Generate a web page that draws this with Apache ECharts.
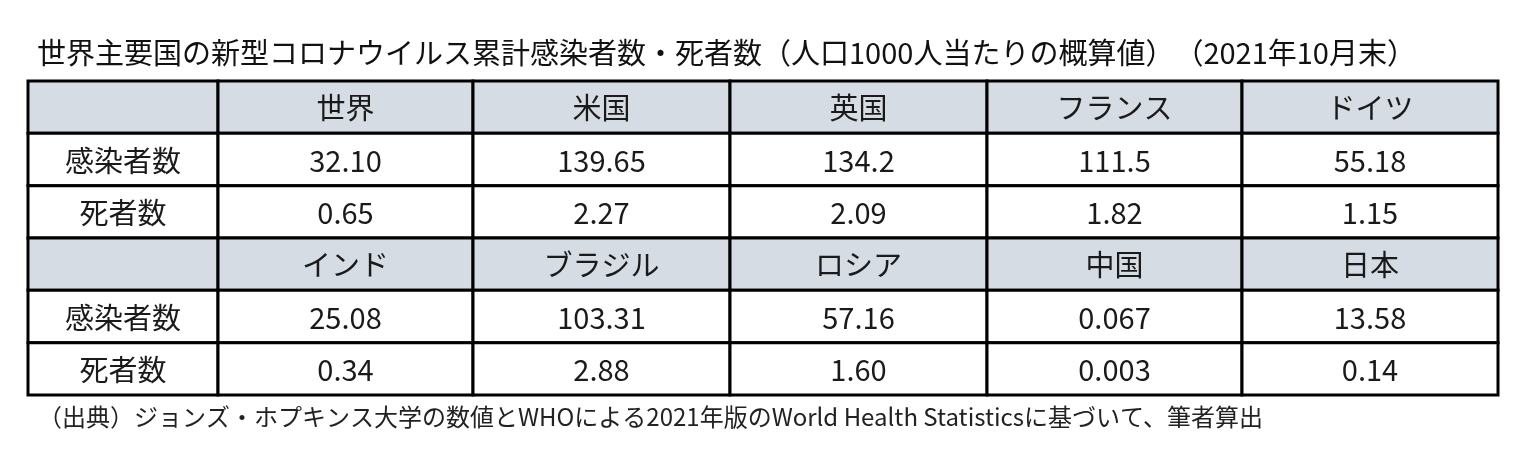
<!DOCTYPE html>
<html><head><meta charset="utf-8">
<script src="https://cdn.jsdelivr.net/npm/echarts@6/dist/echarts.min.js"></script>
<style>html,body{margin:0;padding:0;background:#fff}#c{width:1527px;height:469px}</style>
</head><body><div id="c"></div>
<script>
const title = '世界主要国の新型コロナウイルス累計感染者数・死者数（人口1000人当たりの概算値）　（2021年10月末）';
const note = '（出典）ジョンズ・ホプキンス大学の数値とWHOによる2021年版のWorld Health Statisticsに基づいて、筆者算出';
const rowLabels = ['感染者数', '死者数'];
const countries1 = ['世界', '米国', '英国', 'フランス', 'ドイツ'];
const cases1 = ['32.10', '139.65', '134.2', '111.5', '55.18'];
const deaths1 = ['0.65', '2.27', '2.09', '1.82', '1.15'];
const countries2 = ['インド', 'ブラジル', 'ロシア', '中国', '日本'];
const cases2 = ['25.08', '103.31', '57.16', '0.067', '13.58'];
const deaths2 = ['0.34', '2.88', '1.60', '0.003', '0.14'];

const colEdges = [0, 190, 445, 702, 959, 1214, 1470];
const rows = [
  ['', ...countries1], [rowLabels[0], ...cases1], [rowLabels[1], ...deaths1],
  ['', ...countries2], [rowLabels[0], ...cases2], [rowLabels[1], ...deaths2]
];
const data = [];
rows.forEach((r, ri) => r.forEach((t, ci) => data.push([colEdges[ci], colEdges[ci + 1], ri, ri + 1, t, ri % 3 === 0 ? 1 : 0])));

const chart = echarts.init(document.getElementById('c'));
chart.setOption({
  animation: false,
  title: {text: title, left: 32, top: 33, textStyle: {fontFamily: 'Noto Sans CJK JP', fontSize: 29, fontWeight: 'normal', color: '#111'}},
  graphic: [{type: 'text', left: 38, top: 405, style: {text: note, font: '24px "Noto Sans CJK JP"', fill: '#222'}}],
  grid: {left: 28, top: 81, width: 1470, height: 314},
  xAxis: {type: 'value', min: 0, max: 1470, show: false},
  yAxis: {type: 'value', min: 0, max: 6, inverse: true, show: false},
  series: [{
    type: 'custom',
    data: data,
    encode: {x: [0, 1], y: [2, 3]},
    renderItem: (params, api) => {
      const p1 = api.coord([api.value(0), api.value(2)]);
      const p2 = api.coord([api.value(1), api.value(3)]);
      return {
        type: 'group',
        children: [
          {type: 'rect', shape: {x: p1[0], y: p1[1], width: p2[0] - p1[0], height: p2[1] - p1[1]},
           style: {fill: api.value(5) ? '#d6dce4' : '#fff', stroke: '#000', lineWidth: 3}},
          {type: 'text', style: {text: api.value(4), x: (p1[0] + p2[0]) / 2, y: (p1[1] + p2[1]) / 2 + 1,
           align: 'center', verticalAlign: 'middle', font: '29px "Noto Sans CJK JP"', fill: '#1a1a1a'}}
        ]
      };
    }
  }]
});
</script></body></html>
